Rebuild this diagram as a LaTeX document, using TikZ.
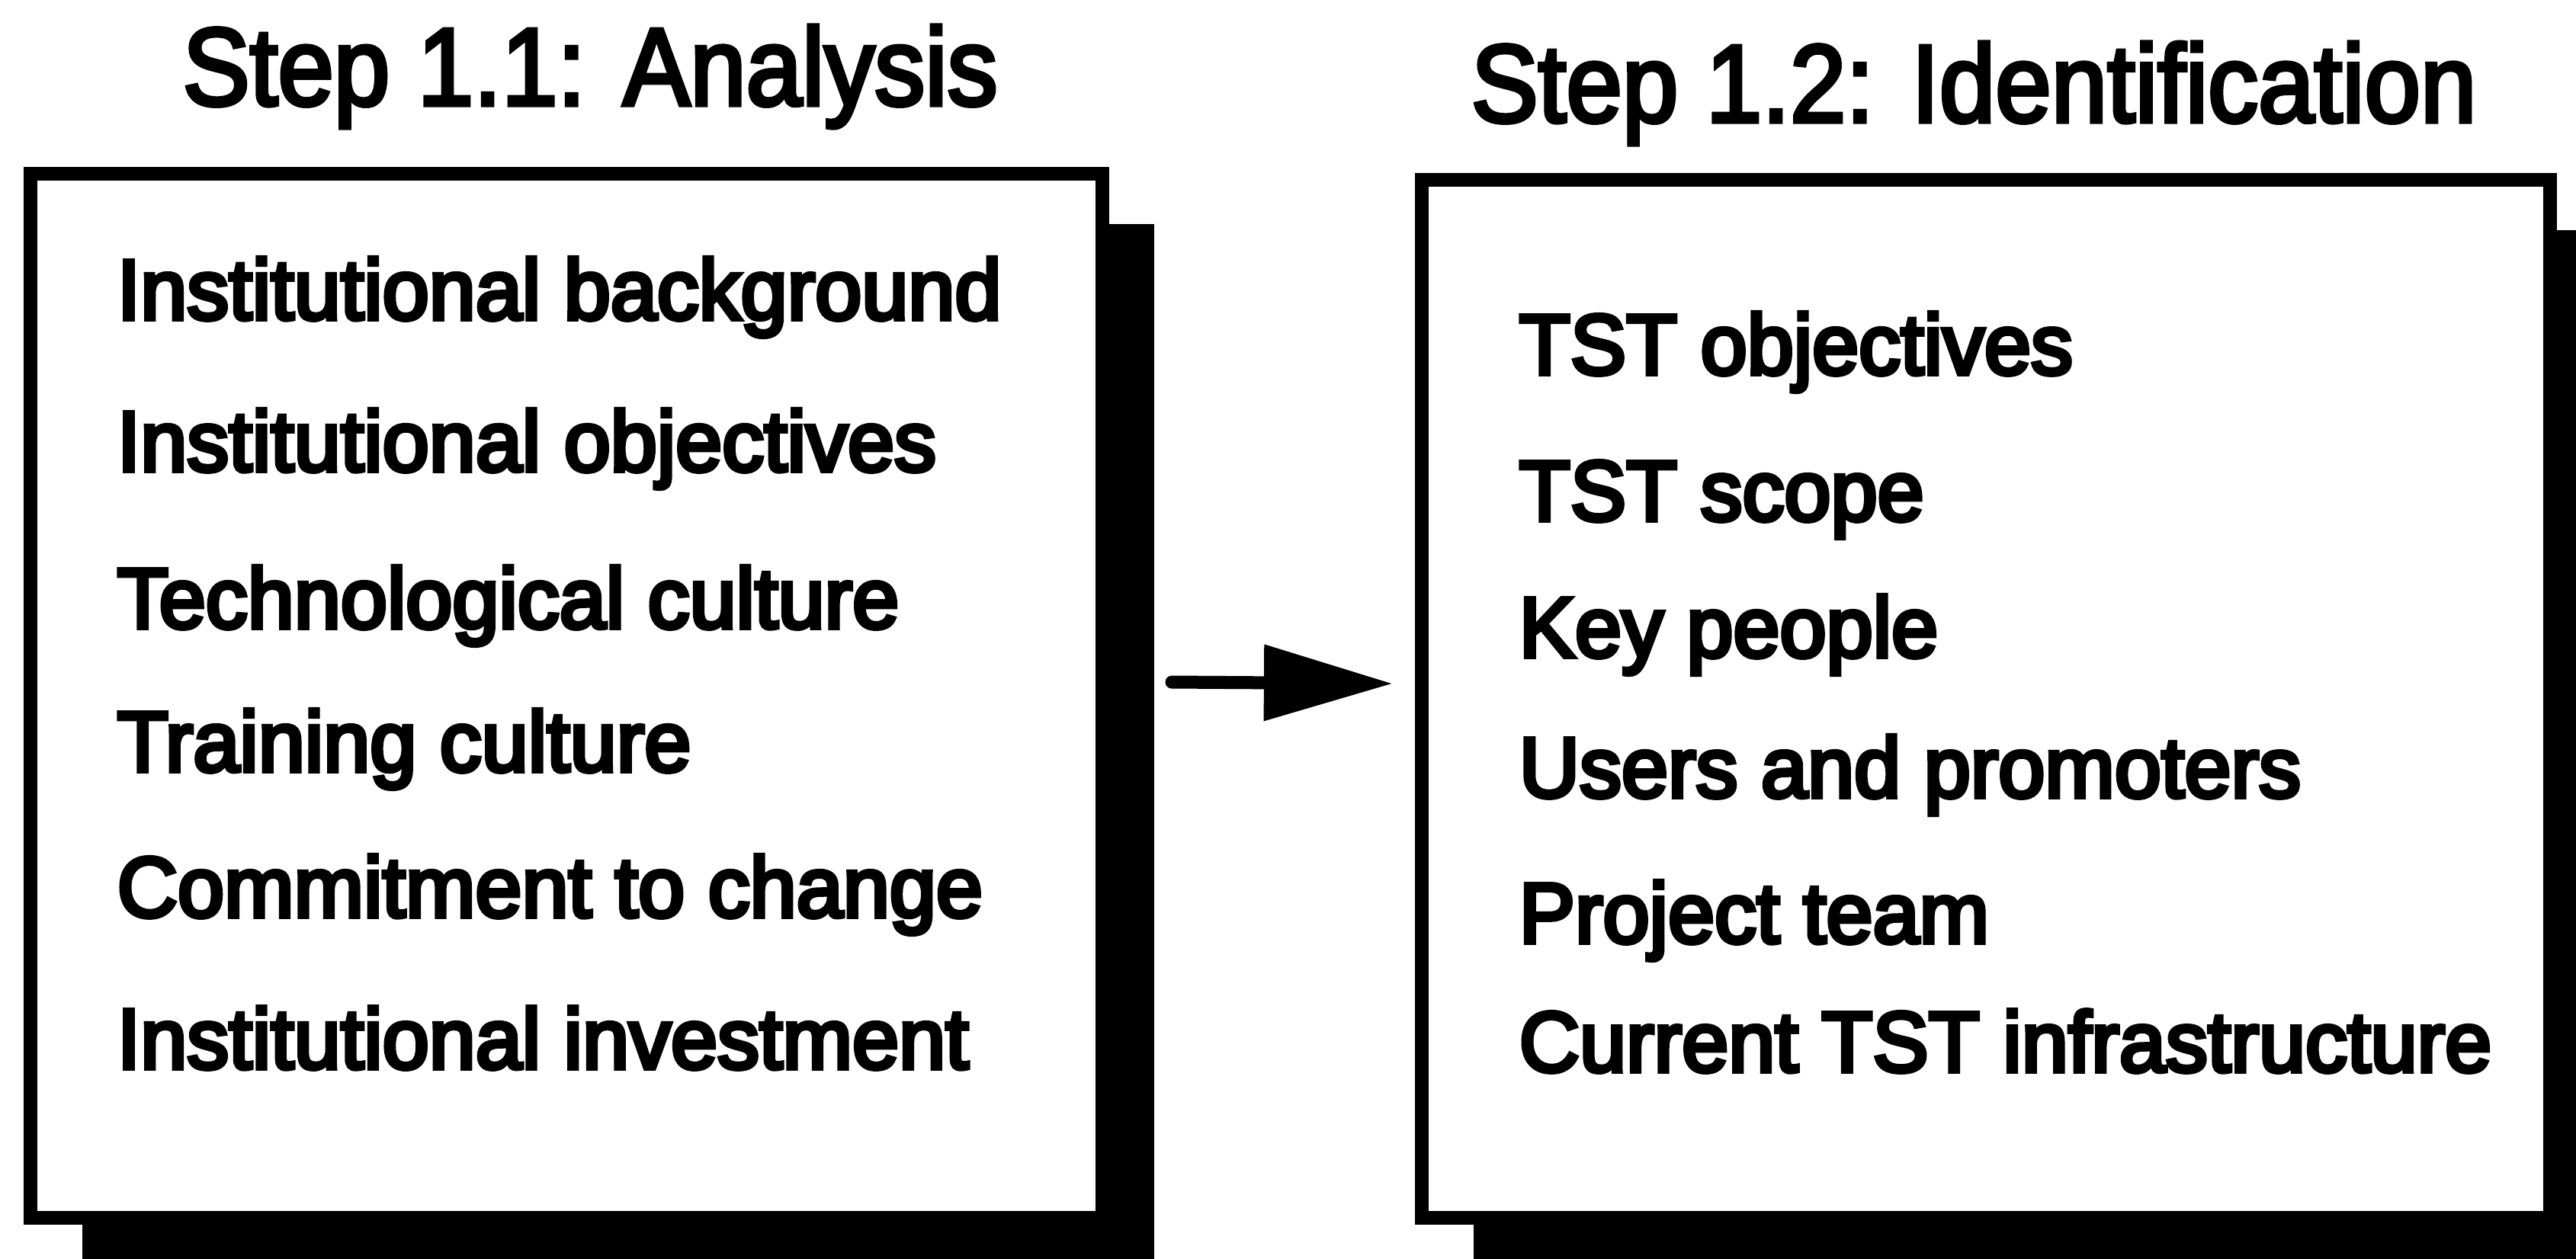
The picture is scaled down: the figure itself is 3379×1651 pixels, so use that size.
\documentclass[tikz,border=0pt]{standalone}
\usepackage{fontspec}
\setmainfont{Liberation Sans}
\newfontfamily\bodyfont{Liberation Sans}[FakeStretch=0.98,FakeBold=5]
\newfontfamily\headfont{Liberation Sans}[FakeStretch=0.91,FakeBold=3.5]
\usetikzlibrary{arrows.meta,shadows}
\begin{document}
\begin{tikzpicture}[x=0.01cm,y=-0.01cm,
  stepbox/.style={draw=black, line width=0.18cm, rectangle, fill=white, inner sep=0pt,
    drop shadow={shadow xshift=0.68cm, shadow yshift=-0.66cm, opacity=1, fill=black}},
  headtext/.style={anchor=base west, inner sep=0pt, font=\headfont\fontsize{41.26pt}{48pt}\selectfont},
  itemtext/.style={anchor=base west, inner sep=0pt, font=\bodyfont\fontsize{31.87pt}{38pt}\selectfont},
  arrowline/.style={line width=0.17cm, line cap=round, -{Triangle[length=1.69cm,width=0.96cm]}}]
\fill[white] (0,0) rectangle (3379,1651);
\useasboundingbox (0,0) rectangle (3379,1651);
\clip (0,0) rectangle (3379,1651);

% boxes
\node[stepbox, minimum width=14.06cm, minimum height=13.70cm] (lbox) at (743,913) {};
\node[stepbox, minimum width=14.80cm, minimum height=13.62cm] (rbox) at (2605,917) {};

% titles
\node[headtext] (t1) at (239,138) {Step 1.1: Analysis};
\node[headtext] (t2) at (1929,160) {Step 1.2: Identification};

% left items
\node[itemtext] (l1) at (153,419) {Institutional background};
\node[itemtext] (l2) at (153,618) {Institutional objectives};
\node[itemtext] (l3) at (153,824) {Technological culture};
\node[itemtext] (l4) at (153,1012) {Training culture};
\node[itemtext] (l5) at (153,1203) {Commitment to change};
\node[itemtext] (l6) at (153,1402) {Institutional investment};

% right items
\node[itemtext] (r1) at (1992,491) {TST objectives};
\node[itemtext] (r2) at (1992,683) {TST scope};
\node[itemtext] (r3) at (1992,862) {Key people};
\node[itemtext] (r4) at (1992,1046) {Users and promoters};
\node[itemtext] (r5) at (1992,1237) {Project team};
\node[itemtext] (r6) at (1992,1406) {Current TST infrastructure};

% connector
\coordinate (arrS) at (1537,895);
\coordinate (arrE) at (1827,897);
\draw[arrowline] (arrS) -- (arrE);
\end{tikzpicture}
\end{document}
